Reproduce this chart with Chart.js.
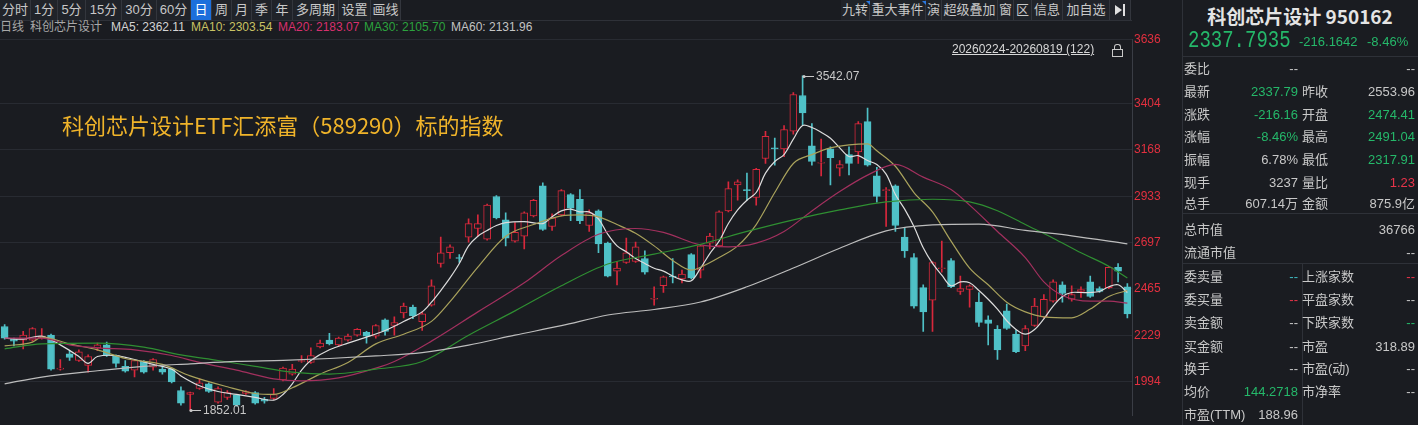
<!DOCTYPE html>
<html lang="zh-CN">
<head>
<meta charset="utf-8">
<title>科创芯片设计 950162 日线</title>
<script src="https://cdn.jsdelivr.net/npm/chart.js@4.4.1/dist/chart.umd.min.js"></script>
<style>
  html, body { margin: 0; padding: 0; }
  body {
    width: 1418px; height: 425px; overflow: hidden; position: relative;
    background: #1a1c21; color: #c8c8c8;
    font-family: "Liberation Sans", "Noto Sans CJK SC", sans-serif;
  }
  .abs { position: absolute; white-space: nowrap; }
  .btn {
    position: absolute; top: 0; height: 20px; line-height: 20px; font-size: 13px;
    text-align: center; color: #c8c8c8; background: #202329;
    border-right: 1px solid #33363d; box-sizing: border-box;
  }
  .btn.on { background: #1c6fdc; color: #fff; }
  .hl { position: absolute; height: 1px; background: #2e3138; }
  .vl { position: absolute; width: 1px; background: #2e3138; }
  .row { position: absolute; height: 18px; line-height: 18px; font-size: 13px; white-space: nowrap; }
  .dn { color: #25b86a; }
  .up { color: #e8344a; }
  .cy { color: #3fbac2; }
  .g0 { color: #c8c8c8; }
  #chartBox { position: absolute; left: 0; top: 30px; width: 1170px; height: 395px; }
</style>
</head>
<body>

<div class="hl" style="left:0;top:20px;width:1132px;"></div>
<div id="tools"></div>
<div id="legend"></div>

<div id="chartBox"><canvas id="kChart" width="1170" height="395"></canvas></div>

<div class="abs" style="left:62px;top:108px;font-size:22px;color:#f0b42a;font-family:'Noto Sans CJK SC',sans-serif;">科创芯片设计ETF汇添富（589290）标的指数</div>

<div class="abs" style="left:952px;top:42px;font-size:12px;color:#d8d8d8;text-decoration:underline;">20260224-20260819 (122)</div>
<div class="abs" style="left:1114px;top:44px;width:5px;height:5px;border:1px solid #c8c8c8;border-bottom:none;border-radius:3px 3px 0 0;"></div>
<div class="abs" style="left:1112px;top:49px;width:9px;height:6px;border:1px solid #c8c8c8;"></div>

<!-- right quote panel -->
<div class="vl" style="left:1182px;top:0;height:425px;"></div>
<div class="hl" style="left:1182px;top:56px;width:236px;"></div>
<div class="hl" style="left:1182px;top:213px;width:236px;"></div>
<div class="hl" style="left:1182px;top:263px;width:236px;"></div>
<div class="vl" style="left:1302px;top:263px;height:162px;"></div>
<div class="abs" style="left:1182px;width:236px;top:2px;text-align:center;font-size:19px;font-weight:bold;color:#e4e4e4;font-family:'Noto Sans CJK SC',sans-serif;">科创芯片设计 950162</div>
<div class="abs dn" style="left:1188px;top:30px;font-size:19px;font-family:'Liberation Mono',monospace;transform:scaleY(1.25);transform-origin:left center;">2337.7935</div>
<div class="abs dn" style="left:1299px;top:34px;font-size:13px;">-216.1642</div>
<div class="abs dn" style="left:1367px;top:34px;font-size:13px;">-8.46%</div>
<div id="quote"></div>

<script>
// candle data, daily, 122 sessions (20260224-20260819)
const opens = [2274,2210,2205,2205,2215,2230,2058,2136,2102,2077,
  2166,2181,2127,2073,2053,2097,2068,2058,2058,1950,
  1930,1960,1984,1891,1915,1925,1935,1940,1905,1910,
  2004,2033,2097,2092,2171,2205,2181,2205,2230,2244,
  2225,2308,2279,2343,2372,2299,2382,2593,2647,2623,
  2726,2770,2716,2932,2814,2706,2731,2834,2986,2780,
  2839,2942,2918,2785,2859,2696,2554,2598,2603,2618,
  2412,2480,2529,2515,2638,2559,2696,2682,2859,2991,
  2967,2927,3124,3178,3173,3262,3443,3188,3101,3173,
  3075,3144,3158,3311,3036,2962,2986,2726,2623,2471,
  2407,2567,2608,2451,2461,2397,2308,2259,2353,2235,
  2176,2279,2323,2402,2485,2412,2451,2500,2466,2471,
  2574,2474.41];
const highs = [2284,2215,2249,2269,2264,2235,2107,2151,2156,2131,
  2190,2195,2131,2102,2107,2102,2112,2068,2063,1969,
  1942,2009,1989,1969,1950,1930,1950,1945,1915,1960,
  2068,2082,2127,2166,2205,2240,2220,2235,2264,2249,
  2284,2313,2323,2392,2382,2348,2510,2726,2687,2638,
  2819,2839,2893,2937,2849,2800,2854,2918,3001,2844,
  2967,2947,2967,2864,2864,2701,2603,2721,2701,2657,
  2475,2529,2618,2559,2643,2687,2746,2859,3006,3016,
  3050,3075,3262,3227,3291,3458,3542.07,3301,3222,3183,
  3114,3183,3311,3379,3080,2977,2991,2775,2643,2485,
  2603,2706,2618,2529,2485,2446,2328,2279,2387,2254,
  2279,2417,2436,2510,2500,2480,2475,2529,2475,2579,
  2593,2491.04];
const lows = [2210,2176,2161,2200,2210,2053,2053,2102,2097,2043,
  2151,2122,2068,2043,2019,2038,2053,2033,1989,1876,
  1852.01,1955,1940,1886,1905,1871,1930,1881,1886,1905,
  1999,2028,2092,2087,2166,2181,2176,2200,2225,2190,
  2215,2230,2230,2318,2313,2254,2377,2574,2618,2598,
  2701,2731,2711,2819,2682,2701,2667,2829,2760,2760,
  2834,2809,2795,2755,2647,2525,2485,2593,2598,2539,
  2382,2446,2495,2495,2515,2520,2667,2677,2854,2913,
  2913,2888,3099,3090,3134,3247,3296,3090,3036,2991,
  3036,3041,3099,3085,2903,2780,2755,2623,2367,2249,
  2249,2549,2471,2436,2372,2274,2181,2107,2259,2141,
  2151,2274,2318,2397,2397,2402,2421,2421,2446,2466,
  2500,2317.91];
const closes = [2215,2200,2230,2264,2225,2058,2063,2117,2146,2122,
  2181,2127,2087,2048,2102,2043,2107,2043,1994,1886,
  1940,1989,1945,1960,1940,1876,1945,1886,1896,1930,
  2063,2058,2102,2127,2190,2186,2215,2225,2259,2225,
  2279,2249,2294,2377,2328,2338,2480,2647,2677,2618,
  2795,2795,2888,2824,2721,2750,2849,2913,2765,2824,
  2962,2873,2809,2849,2692,2529,2569,2647,2677,2549,
  2417,2525,2525,2539,2520,2682,2731,2854,2972,3006,
  2962,3070,3237,3173,3271,3448,3355,3109,3104,3129,
  3094,3099,3301,3090,2932,2967,2785,2657,2377,2348,
  2598,2571,2475,2466,2480,2294,2289,2156,2264,2146,
  2264,2377,2412,2500,2441,2436,2461,2426,2451,2574,
  2553.96,2337.79];

// moving averages: [candle index, value]
const ma5 = [[0,2215],[2,2210],[4,2225],[6,2181],[8,2122],[9,2087],[10,2122],[12,2127],[14,2107],[16,2082],
  [18,2058],[19,2024],[21,1974],[23,1945],[25,1930],[27,1915],[29,1901],[30,1930],[31,1984],[32,2053],
  [33,2102],[35,2156],[37,2190],[39,2220],[41,2254],[43,2299],[45,2348],[46,2397],[47,2456],[48,2520],
  [49,2593],[50,2682],[51,2731],[52,2760],[53,2785],[54,2800],[56,2805],[58,2795],[59,2829],[60,2859],
  [61,2868],[62,2854],[63,2854],[64,2819],[65,2741],[66,2682],[67,2652],[68,2618],[69,2593],[70,2569],
  [71,2554],[72,2529],[73,2510],[74,2505],[75,2569],[76,2643],[77,2706],[78,2795],[79,2864],[80,2913],
  [81,2952],[82,3050],[83,3109],[84,3144],[85,3222],[86,3291],[87,3281],[88,3257],[89,3227],[90,3178],
  [91,3134],[92,3139],[93,3114],[94,3094],[95,3045],[96,2942],[97,2868],[98,2780],[99,2672],[100,2593],
  [101,2534],[102,2480],[103,2500],[104,2495],[105,2456],[106,2412],[107,2362],[108,2303],[109,2259],[110,2235],
  [111,2259],[112,2313],[113,2377],[114,2426],[115,2446],[116,2446],[117,2446],[118,2451],[119,2475],[120,2485],
  [121,2446]];
const ma10 = [[0,2176],[3,2195],[4,2220],[7,2186],[10,2156],[13,2112],[17,2082],[20,2024],[24,1969],[27,1935],
  [29,1930],[31,1964],[34,2033],[37,2092],[40,2186],[43,2235],[46,2300],[48,2400],[51,2575],[54,2731],
  [57,2790],[60,2834],[62,2839],[64,2829],[66,2790],[68,2746],[70,2682],[72,2608],[74,2559],[75,2574],
  [77,2623],[79,2682],[81,2790],[83,2952],[85,3099],[87,3144],[89,3178],[91,3193],[93,3198],[94,3163],
  [96,3085],[98,2952],[100,2854],[102,2706],[104,2569],[106,2485],[108,2397],[110,2348],[112,2323],[115,2318],
  [117,2362],[119,2426],[121,2456]];
const ma20 = [[0,2215],[4,2215],[7,2181],[10,2166],[14,2156],[18,2127],[21,2092],[25,2053],[29,2009],[32,1999],
  [36,2014],[40,2063],[42,2097],[46,2200],[51,2348],[56,2495],[60,2633],[64,2741],[68,2770],[71,2750],
  [75,2687],[78,2677],[81,2696],[84,2755],[87,2859],[90,2957],[93,3040],[96,3094],[99,3030],[102,2967],
  [104,2888],[107,2755],[110,2623],[112,2500],[114,2431],[117,2402],[119,2402],[121,2392]];
const ma30 = [[0,2161],[4,2186],[10,2190],[15,2170],[19,2130],[23,2102],[27,2072],[31,2043],[35,2033],[40,2058],
  [45,2097],[50,2230],[55,2353],[60,2480],[65,2590],[70,2640],[75,2690],[80,2755],[85,2814],[90,2864],
  [95,2905],[100,2918],[104,2905],[107,2860],[110,2790],[113,2721],[116,2647],[119,2579],[121,2520]];
const ma60 = [[0,1984],[4,2018],[10,2050],[15,2072],[20,2085],[25,2097],[30,2103],[35,2112],[40,2125],[45,2142],
  [50,2180],[55,2230],[60,2278],[65,2332],[70,2360],[75,2398],[80,2475],[85,2570],[90,2670],[95,2758],
  [100,2788],[105,2792],[110,2760],[115,2733],[121,2692]];

// price axis
const yMin = 1822;
const yMax = 3728;
const yTickValues = [1994, 2229, 2465, 2697, 2933, 3168, 3404, 3728];
const yTickLabels = ['1994', '2229', '2465', '2697', '2933', '3168', '3404', '3636'];

const BG = '#1a1c21';
const RED = '#d8283c';
const CYAN = '#4fc1c7';

// toolbar + legend text
const leftTools = [['分时',0,31],['1分',31,27],['5分',58,28],['15分',86,36],['30分',122,35],['60分',157,34],
  ['日',191,21,true],['周',212,20],['月',232,20],['季',252,20],['年',272,21],['多周期',293,46],['设置',339,32],['画线',371,30]];
const rightTools = [['九转',841,29],['重大事件',870,56],['演',926,16],['超级叠加',942,56],['窗',998,16],['区',1014,18],
  ['信息',1032,31],['加自选',1063,47],['',1110,21]];
const legendItems = [['日线',0,'#a8a8a8'],['科创芯片设计',30,'#a8a8a8'],['MA5: 2362.11',111,'#d4d4d4'],
  ['MA10: 2303.54',191,'#c9c264'],['MA20: 2183.07',278,'#d8306e'],['MA30: 2105.70',364,'#2ca23e'],['MA60: 2131.96',451,'#c4c4c4']];

const tools = document.getElementById('tools');
leftTools.concat(rightTools).forEach(([t, x, w, on]) => {
    const b = document.createElement('div');
    b.className = 'btn' + (on ? ' on' : '');
    b.style.left = x + 'px';
    b.style.width = w + 'px';
    b.textContent = t;
    tools.appendChild(b);
});
// little blue corner flags on 九转 / 重大事件
[866, 922].forEach(x => {
    const f = document.createElement('div');
    f.className = 'abs';
    f.style.cssText = `left:${x}px;top:1px;width:0;height:0;border-top:4px solid #2a78e0;border-left:4px solid transparent;`;
    tools.appendChild(f);
});
// collapse icon
const arrow = document.createElement('div');
arrow.className = 'abs';
arrow.style.cssText = 'left:1115px;top:5px;width:0;height:0;border-top:5px solid transparent;border-bottom:5px solid transparent;border-left:7px solid #e0e0e0;';
tools.appendChild(arrow);
const bar = document.createElement('div');
bar.className = 'abs';
bar.style.cssText = 'left:1123px;top:4px;width:2px;height:12px;background:#e0e0e0;';
tools.appendChild(bar);

const legend = document.getElementById('legend');
legendItems.forEach(([t, x, c]) => {
    const s = document.createElement('div');
    s.className = 'abs';
    s.style.cssText = `left:${x}px;top:20px;font-size:12px;line-height:15px;color:${c};`;
    s.textContent = t;
    legend.appendChild(s);
});

// quote panel rows: [centre y, label, value, cls, label2, value2, cls2]
const quoteRows = [
    [69, '委比', '--', 'g0', '', '--', 'g0'],
    [92, '最新', '2337.79', 'dn', '昨收', '2553.96', 'g0'],
    [115, '涨跌', '-216.16', 'dn', '开盘', '2474.41', 'dn'],
    [137, '涨幅', '-8.46%', 'dn', '最高', '2491.04', 'dn'],
    [160, '振幅', '6.78%', 'g0', '最低', '2317.91', 'dn'],
    [183, '现手', '3237', 'g0', '量比', '1.23', 'up'],
    [204, '总手', '607.14万', 'g0', '金额', '875.9亿', 'g0'],
    [230, '总市值', '', '', '', '36766', 'g0'],
    [253, '流通市值', '', '', '', '--', 'g0'],
    [277, '委卖量', '--', 'cy', '上涨家数', '--', 'up'],
    [300, '委买量', '--', 'up', '平盘家数', '--', 'g0'],
    [323, '卖金额', '--', 'g0', '下跌家数', '--', 'dn'],
    [347, '买金额', '--', 'g0', '市盈', '318.89', 'g0'],
    [369, '换手', '--', 'g0', '市盈(动)', '--', 'g0'],
    [392, '均价', '144.2718', 'dn', '市净率', '--', 'g0'],
    [415, '市盈(TTM)', '188.96', 'g0', '', '', '']
];
const quote = document.getElementById('quote');
function cell(text, cls, style) {
    const d = document.createElement('div');
    d.className = 'row ' + cls;
    d.style.cssText = style;
    d.textContent = text;
    quote.appendChild(d);
}
quoteRows.forEach(([y, l1, v1, c1, l2, v2, c2]) => {
    const top = (y - 9) + 'px';
    cell(l1, 'g0', `left:1184px;top:${top};`);
    if (v1) cell(v1, c1, `right:${1418 - 1298}px;top:${top};text-align:right;`);
    if (l2) cell(l2, 'g0', `left:1302px;top:${top};`);
    if (v2) cell(v2, c2, `right:3px;top:${top};text-align:right;`);
});

// candles as floating bars on a linear index axis
const isUp = closes.map((c, i) => c >= opens[i]);
const bodyData = opens.map((o, i) => ({ x: i, y: [o, closes[i]] }));
const wickData = lows.map((l, i) => ({ x: i, y: [l, highs[i]] }));
const toPts = arr => arr.map(([i, v]) => ({ x: i, y: v }));

// marks the highest high and the lowest low
const hiLoPlugin = {
    id: 'hiLoMarks',
    afterDatasetsDraw(chart) {
        const { ctx, scales: { x, y } } = chart;
        const hi = Math.max(...highs), lo = Math.min(...lows);
        const marks = [[highs.indexOf(hi), hi], [lows.indexOf(lo), lo]];
        ctx.save();
        ctx.strokeStyle = '#c8c8c8';
        ctx.fillStyle = '#c8c8c8';
        ctx.lineWidth = 1;
        ctx.font = '12px "Liberation Sans", sans-serif';
        ctx.textBaseline = 'middle';
        marks.forEach(([i, v]) => {
            const px = Math.round(x.getPixelForValue(i));
            const py = Math.round(y.getPixelForValue(v)) + 0.5;
            ctx.beginPath();
            ctx.arc(px + 1, py, 1.6, 0, Math.PI * 2);
            ctx.fill();
            ctx.beginPath();
            ctx.moveTo(px + 1, py);
            ctx.lineTo(px + 11, py);
            ctx.stroke();
            ctx.fillText(v.toFixed(2), px + 13, py);
        });
        ctx.restore();
    }
};

const maLine = (label, pts, color, width, mode) => ({
    type: 'line',
    label: label,
    data: toPts(pts),
    borderColor: color,
    borderWidth: width,
    pointRadius: 0,
    tension: 0.35,
    cubicInterpolationMode: mode,
    order: 0
});

new Chart(document.getElementById('kChart').getContext('2d'), {
    type: 'bar',
    data: {
        datasets: [
            maLine('MA60', ma60, '#bdbdbd', 1.2, 'monotone'),
            maLine('MA30', ma30, '#2f8f32', 1.2, 'monotone'),
            maLine('MA20', ma20, '#a2305e', 1.2, 'monotone'),
            maLine('MA10', ma10, '#a9a25c', 1.2, 'monotone'),
            maLine('MA5', ma5, '#dcdcdc', 1.2, 'default'),
            {
                label: 'body',
                data: bodyData,
                grouped: false,
                barThickness: 7,
                backgroundColor: isUp.map(u => u ? BG : CYAN),
                borderColor: isUp.map(u => u ? RED : CYAN),
                borderWidth: 1,
                borderSkipped: false,
                order: 1
            },
            {
                label: 'wick',
                data: wickData,
                grouped: false,
                barThickness: 1,
                backgroundColor: isUp.map(u => u ? RED : CYAN),
                borderWidth: 0,
                order: 2
            }
        ]
    },
    options: {
        responsive: false,
        animation: false,
        events: [],
        layout: { padding: { top: 7, left: 0, right: 0, bottom: 0 } },
        plugins: {
            legend: { display: false },
            tooltip: { enabled: false }
        },
        scales: {
            x: {
                type: 'linear',
                min: -0.5,
                max: opens.length - 0.5,
                offset: false,
                bounds: 'data',
                grid: { offset: false },
                display: false
            },
            y: {
                position: 'right',
                min: yMin,
                max: yMax,
                afterBuildTicks: s => { s.ticks = yTickValues.map(v => ({ value: v })); },
                afterFit: s => { s.width = 38; },
                ticks: {
                    autoSkip: false,
                    color: '#e2303f',
                    padding: 2,
                    font: { size: 12, family: '"Liberation Sans", sans-serif' },
                    callback: (value, index) => yTickLabels[index]
                },
                grid: { color: '#282b32', drawTicks: false },
                border: { color: '#3a3d45' }
            }
        }
    },
    plugins: [hiLoPlugin]
});
</script>
</body>
</html>
